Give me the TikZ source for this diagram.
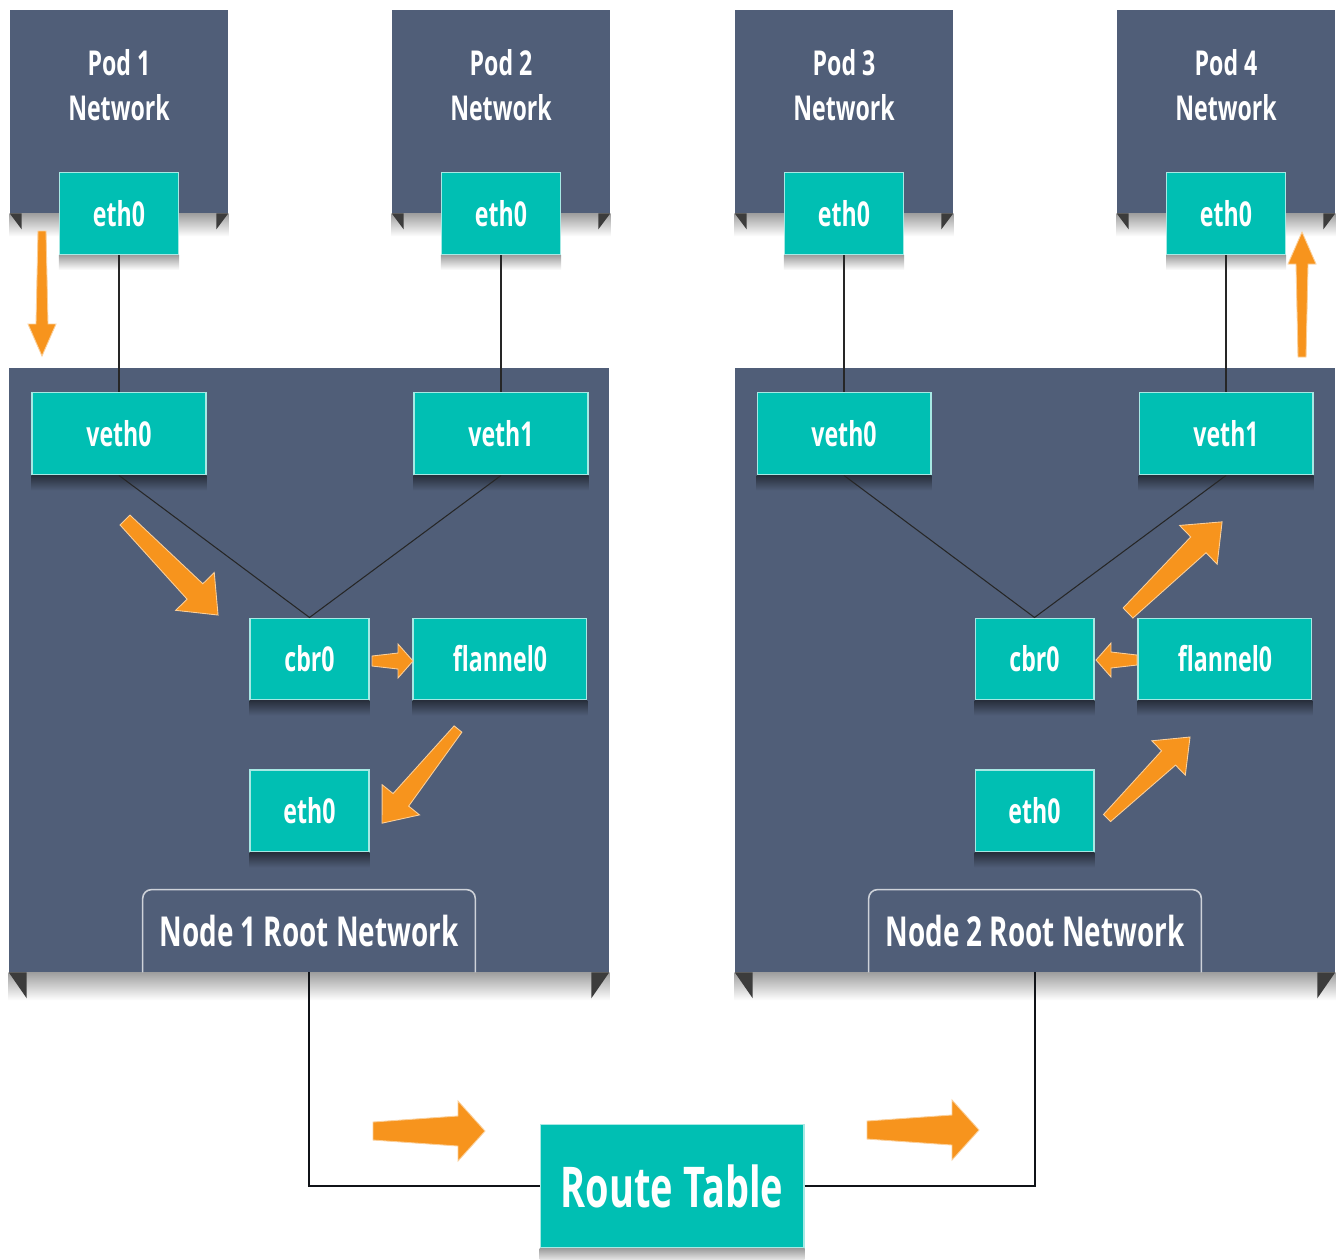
\documentclass[tikz,border=0pt]{standalone}
\usepackage{fontspec}
\setmainfont{Open Sans}[FakeStretch=0.675]
\usepackage{tikz}
\usetikzlibrary{positioning}

\definecolor{slate}{HTML}{505E78}
\definecolor{teal1}{HTML}{00BFB3}
\definecolor{flow}{HTML}{F7941D}
\definecolor{fold}{HTML}{3C3C3C}

\newcommand{\labfont}{\fontsize{19.5}{26}\selectfont\bfseries}
\newcommand{\tabfont}{\fontsize{23.5}{28}\selectfont\bfseries}
\newcommand{\routefont}{\fontsize{32}{38}\selectfont\bfseries}

\tikzset{
  pics/flow/.style n args={5}{code={
    \filldraw[fill=flow, draw=white!55!flow, line width=0.5pt]
      (0,-#2) -- (#1-#5,-#3) -- (#1-#5,-#4) -- (#1,0) -- (#1-#5,#4) -- (#1-#5,#3) -- (0,#2) -- cycle;
  }}
}

\begin{document}
\begin{tikzpicture}[x=0.02cm, y=-0.02cm, on grid,
    box/.style={rectangle, fill=slate, inner sep=0pt},
    podbox/.style={box, minimum width=4.36cm, minimum height=4.06cm},
    hostbox/.style={box, minimum width=12cm, minimum height=12.08cm},
    podtext/.style={text=white, align=center, font=\labfont, yshift=0.53cm},
    port/.style={rectangle, fill=teal1, draw=teal1!35!white, line width=0.6pt, text=white,
                 font=\labfont, minimum width=2.38cm, minimum height=1.64cm, inner sep=0pt},
    wideport/.style={port, minimum width=3.48cm},
    tabtext/.style={text=white, font=\tabfont, minimum width=6.64cm, minimum height=1.64cm, inner sep=0pt, anchor=south},
    tabline/.style={draw=white!72!slate, line width=0.9pt, rounded corners=5pt},
    link/.style={draw=black!85, line width=0.6pt},
    trunk/.style={draw=black!80!slate, line width=1.6pt},
    shadeW/.style={top color=black!38, bottom color=white},
    shadeD/.style={top color=slate!50!black, bottom color=slate}]

    \fill[white] (0,0) rectangle (1344,1259);
    \useasboundingbox (0,0) rectangle (1344,1259);

    % pod and host frames
    \node[podbox, label={[podtext]center:{Pod 1\\Network}}] (pod1) at (119,111.5) {};
    \node[podbox, label={[podtext]center:{Pod 2\\Network}}] (pod2) at (501,111.5) {};
    \node[podbox, label={[podtext]center:{Pod 3\\Network}}] (pod3) at (844,111.5) {};
    \node[podbox, label={[podtext]center:{Pod 4\\Network}}] (pod4) at (1226,111.5) {};
    \node[hostbox] (host1) at (309,670) {};
    \node[hostbox] (host2) at (1035,670) {};

    %folded bottom edges
    \foreach \b in {pod1,pod2,pod3,pod4}{
      \shade[shadeW] (\b.south west) rectangle ([yshift=-0.46cm]\b.south east);
      \fill[fold] (\b.south west) -- ++(12,0) -- ++(0,16) -- cycle;
      \fill[fold] (\b.south east) -- ++(-12,0) -- ++(0,16) -- cycle;
    }
    \foreach \b in {host1,host2}{
      \shade[shadeW] (\b.south west) rectangle ([yshift=-0.56cm]\b.south east);
      \fill[fold] (\b.south west) -- ++(18,0) -- ++(0,26) -- cycle;
      \fill[fold] (\b.south east) -- ++(-18,0) -- ++(0,26) -- cycle;
    }

    % interfaces
    \node[port] (e1) [below=2.04cm of pod1] {eth0};
    \node[port] (e2) [below=2.04cm of pod2] {eth0};
    \node[port] (e3) [below=2.04cm of pod3] {eth0};
    \node[port] (e4) [below=2.04cm of pod4] {eth0};

    \node[wideport] (v10) [below=4.41cm of e1] {veth0};
    \node[wideport] (v11) [below=4.41cm of e2] {veth1};
    \node[port] (c1) at (309.5,659) {cbr0};
    \node[wideport] (f1) [right=3.81cm of c1] {flannel0};
    \node[port] (h1) [below=3.04cm of c1] {eth0};

    \node[wideport] (v20) [below=4.41cm of e3] {veth0};
    \node[wideport] (v21) [below=4.41cm of e4] {veth1};
    \node[port] (c2) at (1034.5,659) {cbr0};
    \node[wideport] (f2) [right=3.81cm of c2] {flannel0};
    \node[port] (h2) [below=3.04cm of c2] {eth0};

    \node[tabtext] (t1) at (host1.south) {Node 1 Root Network};
    \node[tabtext] (t2) at (host2.south) {Node 2 Root Network};
    \draw[tabline] (t1.south west) -- (t1.north west) -- (t1.north east) -- (t1.south east);
    \draw[tabline] (t2.south west) -- (t2.north west) -- (t2.north east) -- (t2.south east);

    \node[port, font=\routefont, minimum width=5.28cm, minimum height=2.48cm] (rt) at (672,1186) {Route Table};

    % shadows under the boxes
    \foreach \n in {e1,e2,e3,e4,rt}
      \shade[shadeW] (\n.south west) rectangle ([yshift=-0.3cm]\n.south east);
    \foreach \n in {v10,v11,c1,f1,h1,v20,v21,c2,f2,h2}
      \shade[shadeD] (\n.south west) rectangle ([yshift=-0.3cm]\n.south east);

    % wiring
    \draw[link] (e1.south) -- (v10.north);
    \draw[link] (e2.south) -- (v11.north);
    \draw[link] (e3.south) -- (v20.north);
    \draw[link] (e4.south) -- (v21.north);
    \draw[link] (v10.south) -- (c1.north) -- (v11.south);
    \draw[link] (v20.south) -- (c2.north) -- (v21.south);
    \draw[trunk] (host1.south) |- (rt.west);
    \draw[trunk] (rt.east) -| (host2.south);

    % packet path
    \pic[rotate=-90] (a1) at (42,231) {flow={125}{4}{6}{14}{32}};
    \pic[rotate=-45.6] (a2) at (125,520) {flow={133}{7}{11}{27}{33}};
    \pic (a3) at (372,661) {flow={41}{5}{8}{17}{15}};
    \pic[rotate=-128.9] (a4) at (458,729) {flow={121}{5}{10}{24}{30}};
    \pic (a5) at (373,1131) {flow={112}{9}{15}{30}{27}};
    \pic (a6) at (867,1130) {flow={112}{9}{15}{30}{27}};
    \pic[rotate=44.3] (a7) at (1107,818) {flow={116}{5}{10}{24}{30}};
    \pic[rotate=180] (a8) at (1137,660) {flow={41}{5}{8}{17}{15}};
    \pic[rotate=44.1] (a9) at (1128,613) {flow={131}{7}{11}{27}{33}};
    \pic[rotate=90] (a10) at (1302,357) {flow={125}{4}{6}{14}{32}};
\end{tikzpicture}
\end{document}
